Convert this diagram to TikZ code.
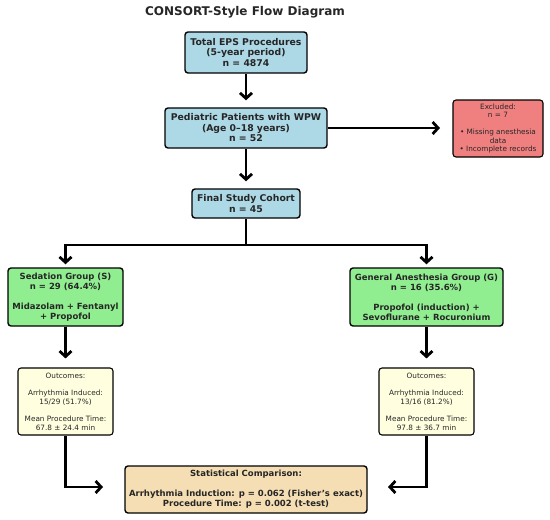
\documentclass[tikz,border=0pt]{standalone}
\usepackage{fontspec}
\setmainfont{DejaVu Sans}
\usepackage{xcolor}
\usepackage{tikz}
\usetikzlibrary{arrows.meta}
\definecolor{boxblue}{HTML}{ADD8E6}
\definecolor{boxred}{HTML}{F08080}
\definecolor{boxgreen}{HTML}{90EE90}
\definecolor{boxyellow}{HTML}{FFFFE0}
\definecolor{boxwheat}{HTML}{F5DEB3}
\definecolor{ink}{HTML}{262626}
\tikzset{
  box/.style={draw=black,line width=1.4pt,rounded corners=3pt,align=center,inner sep=2pt,text=ink,font=\fontsize{9.3}{10.5}\selectfont\bfseries},
  grp/.style={box,font=\fontsize{8.5}{10}\selectfont\bfseries},
  note/.style={draw=black,line width=1.1pt,rounded corners=3pt,align=center,inner sep=2pt,text=ink,font=\fontsize{7.3}{8.7}\selectfont},
  flow/.style={line width=2.8pt,-{Straight Barb[length=5.5pt,width=12pt,line width=2.8pt]}}
}
\begin{document}
\begin{tikzpicture}[x=1pt,y=-1pt]
\useasboundingbox (0,0) rectangle (550,520);
\node[font=\fontsize{12}{14}\selectfont\bfseries,text=ink] (title) at (245,12) {CONSORT-Style Flow Diagram};
\node[box,fill=boxblue,minimum width=122pt,minimum height=41pt] (eps) at (246,52.5) {Total EPS Procedures\\(5-year period)\\n = 4874};
\node[box,fill=boxblue,minimum width=162pt,minimum height=40pt] (wpw) at (246,128) {Pediatric Patients with WPW\\(Age 0--18 years)\\n = 52};
\node[note,fill=boxred,minimum width=90pt,minimum height=57pt] (excl) at (498,128.5) {Excluded:\\n = 7\\[8pt]• Missing anesthesia\\data\\• Incomplete records};
\node[box,fill=boxblue,minimum width=108pt,minimum height=29pt] (cohort) at (246,203.5) {Final Study Cohort\\n = 45};
\node[grp,fill=boxgreen,minimum width=115pt,minimum height=58pt] (sed) at (65.5,297) {Sedation Group (S)\\n = 29 (64.4\%)\\[10pt]Midazolam + Fentanyl\\+ Propofol};
\node[grp,fill=boxgreen,minimum width=153pt,minimum height=58pt] (gen) at (426.5,297) {General Anesthesia Group (G)\\n = 16 (35.6\%)\\[10pt]Propofol (induction) +\\Sevoflurane + Rocuronium};
\node[note,fill=boxyellow,minimum width=95pt,minimum height=67pt] (outs) at (65.5,401.5) {Outcomes:\\[8.6pt]Arrhythmia Induced:\\15/29 (51.7\%)\\[8.6pt]Mean Procedure Time:\\67.8 ± 24.4 min};
\node[note,fill=boxyellow,minimum width=95pt,minimum height=67pt] (outg) at (426.5,401.5) {Outcomes:\\[8.6pt]Arrhythmia Induced:\\13/16 (81.2\%)\\[8.6pt]Mean Procedure Time:\\97.8 ± 36.7 min};
\node[grp,fill=boxwheat,minimum width=242pt,minimum height=47pt] (stat) at (246,489.5) {Statistical Comparison:\\[10pt]Arrhythmia Induction: p = 0.062 (Fisher's exact)\\Procedure Time: p = 0.002 (t-test)};
% free ends of connectors
\coordinate (split) at (246,245);
\coordinate (excltip) at (440,128);
\coordinate (statl) at (103,487);
\coordinate (statr) at (388,487);
\draw[flow,shorten >=7pt] (eps) -- (wpw);
\draw[flow] (wpw) -- (excltip);
\draw[flow,shorten >=7pt] (wpw) -- (cohort);
\draw[line width=2.8pt] (cohort) -- (split);
\draw[flow,shorten >=3pt] (split) -| (sed);
\draw[flow,shorten >=3pt] (split) -| (gen);
\draw[flow,shorten >=9pt] (sed) -- (outs);
\draw[flow,shorten >=9pt] (gen) -- (outg);
\draw[flow] (outs) |- (statl);
\draw[flow] (outg) |- (statr);
\end{tikzpicture}
\end{document}
